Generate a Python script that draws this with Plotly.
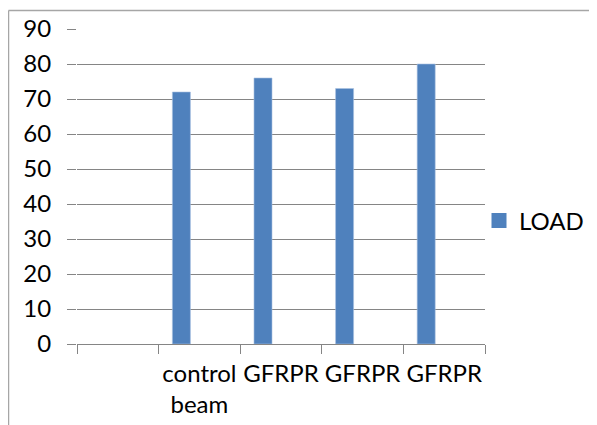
import plotly.graph_objects as go

categories = ["", "control<br>beam", "GFRPR", "GFRPR", "GFRPR"]
load_values = [None, 72, 76, 73, 80]
empty_series_a = [None, None, None, None, None]
empty_series_b = [None, None, None, None, None]
y_ticks = [0, 10, 20, 30, 40, 50, 60, 70, 80, 90]

positions = list(range(len(categories)))
boundaries = [p - 0.5 for p in positions] + [positions[-1] + 0.5]

FONT = "Lato, Liberation Sans, Arial, sans-serif"
FS = 24
GRID = "#858585"
BLUE = "#4F81BD"

fig = go.Figure()
fig.add_trace(go.Bar(x=positions, y=load_values, name="LOAD", legendgroup="load",
                     showlegend=False,
                     marker=dict(color=BLUE, line=dict(color="#A9C1E0", width=0.6))))
fig.add_trace(go.Bar(x=positions, y=empty_series_a, name="s2", showlegend=False,
                     marker=dict(color=BLUE)))
fig.add_trace(go.Bar(x=positions, y=empty_series_b, name="s3", showlegend=False,
                     marker=dict(color=BLUE)))
# legend entry for LOAD drawn with a larger square swatch
fig.add_trace(go.Scatter(x=[None], y=[None], name="LOAD", legendgroup="load",
                         mode="markers", showlegend=True,
                         marker=dict(symbol="square", size=15, color=BLUE)))

# page places the figure 8px from the window's top-left corner
OFF = 8
W, H = 597 - OFF, 425 - OFF
# plot area in window pixels: x 77..485, y 29..344
ml, mt = 77 - OFF, 29 - OFF
mr = W - (485 - OFF)
mb = H - (344 - OFF)
pw, ph = W - ml - mr, H - mt - mb

def px_x(p):
    return (p - OFF - ml) / pw

def px_y(p):
    return (H - mb - (p - OFF)) / ph

fig.update_layout(
    width=W, height=H,
    margin=dict(l=ml, r=mr, t=mt, b=mb, pad=0, autoexpand=False),
    paper_bgcolor="white", plot_bgcolor="white",
    barmode="group", bargap=0.338, bargroupgap=0,
    font=dict(family=FONT, size=FS, color="#000000"),
    showlegend=True,
    legend=dict(x=px_x(479), xanchor="left", y=px_y(221), yanchor="middle",
                font=dict(family=FONT, size=FS, color="#000000"),
                bgcolor="rgba(0,0,0,0)", borderwidth=0, itemsizing="trace"),
    xaxis=dict(range=[-0.5, len(categories) - 0.5], tickmode="array",
               tickvals=positions, ticktext=categories, ticks="",
               tickangle=0, automargin=False, ticklabelstandoff=8,
               showgrid=False, zeroline=False, showline=True,
               linecolor=GRID, linewidth=1.3,
               tickfont=dict(family=FONT, size=FS, color="#000000"),
               minor=dict(tickmode="array", tickvals=boundaries, ticks="outside",
                          ticklen=9, tickcolor=GRID, tickwidth=1.3, showgrid=False),
               fixedrange=True),
    yaxis=dict(range=[0, 90], tickmode="array", tickvals=y_ticks,
               showgrid=True, gridcolor=GRID, gridwidth=1.3,
               zeroline=False, showline=False, automargin=False,
               ticks="outside", ticklen=9, tickcolor=GRID, tickwidth=1.3,
               ticklabelstandoff=11,
               tickfont=dict(family=FONT, size=FS, color="#000000"),
               fixedrange=True),
    shapes=[
        dict(type="line", xref="paper", yref="paper",
             x0=px_x(8.5), x1=px_x(8.5), y0=px_y(10.5), y1=px_y(440),
             line=dict(color="#A6A6A6", width=1.5)),
        dict(type="line", xref="paper", yref="paper",
             x0=px_x(8.5), x1=px_x(610), y0=px_y(10.5), y1=px_y(10.5),
             line=dict(color="#A6A6A6", width=1.5)),
    ],
)

fig.write_html("out.html")
